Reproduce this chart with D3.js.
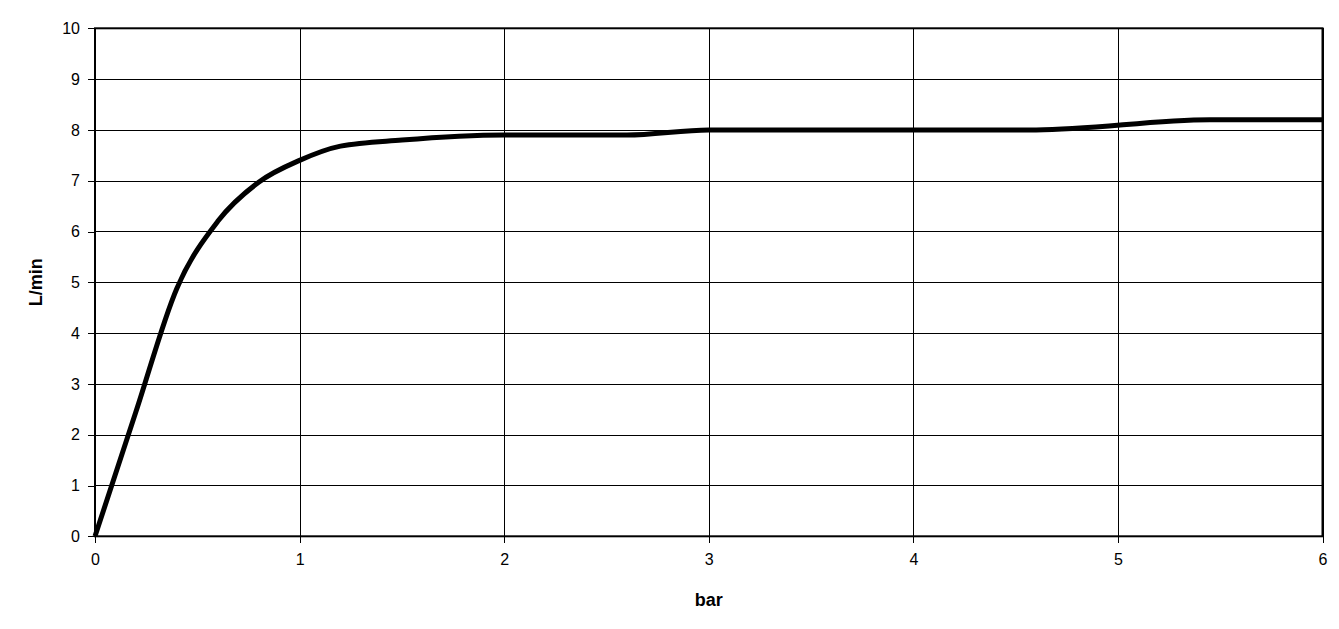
<!DOCTYPE html>
<html>
<head>
<meta charset="utf-8">
<script src="https://cdn.jsdelivr.net/npm/d3@7"></script>
<style>
  html, body { margin: 0; padding: 0; background: #fff; }
  svg { display: block; }
  text { font-family: "Liberation Sans", Arial, Helvetica, sans-serif; fill: #000; }
</style>
</head>
<body>
<svg id="chart" width="1339" height="629"></svg>
<script>
// Data
const pressureBar = [0, 0.2,  0.4,  0.6,  0.8,  1.0, 1.2,  1.5, 2.0, 2.6, 3.0, 4.6, 5.45, 6.0];
const flowLmin    = [0, 2.45, 4.88, 6.2,  6.97, 7.4, 7.68, 7.8, 7.9, 7.9, 8.0, 8.0, 8.2,  8.2];
const xTicks = [0, 1, 2, 3, 4, 5, 6];
const yTicks = [0, 1, 2, 3, 4, 5, 6, 7, 8, 9, 10];
const xTitle = "bar";
const yTitle = "L/min";

const svg = d3.select("#chart");
const mLeft = 95, mRight = 1322.5, mTop = 28.3, mBottom = 536.3;

const x = d3.scaleLinear().domain([0, 6]).range([mLeft, mRight]);
const y = d3.scaleLinear().domain([0, 10]).range([mBottom, mTop]);

// Gridlines
const grid = svg.append("g");
grid.selectAll("line.h").data(yTicks).join("line")
  .attr("x1", mLeft).attr("x2", mRight)
  .attr("y1", d => Math.round(y(d)) + 0.5).attr("y2", d => Math.round(y(d)) + 0.5)
  .attr("stroke", "#000").attr("stroke-width", 1).attr("shape-rendering", "crispEdges");
grid.selectAll("line.v").data(xTicks).join("line")
  .attr("y1", mTop).attr("y2", mBottom)
  .attr("x1", d => Math.round(x(d)) + 0.5).attr("x2", d => Math.round(x(d)) + 0.5)
  .attr("stroke", "#000").attr("stroke-width", 1).attr("shape-rendering", "crispEdges");

// Axes
const yAxis = d3.axisLeft(y).tickValues(yTicks).tickSize(7).tickPadding(8).tickFormat(d3.format("d"));
const xAxis = d3.axisBottom(x).tickValues(xTicks).tickSize(7).tickPadding(10).tickFormat(d3.format("d"));

const gy = svg.append("g").attr("transform", `translate(${mLeft},0)`).call(yAxis);
const gx = svg.append("g").attr("transform", `translate(0,${mBottom})`).call(xAxis);
[gx, gy].forEach(g => {
  g.select(".domain").remove();
  g.selectAll(".tick line").attr("stroke", "#000").attr("stroke-width", 1).attr("shape-rendering", "crispEdges");
  g.selectAll(".tick text").attr("font-size", 16).attr("font-family", "Liberation Sans, Arial, sans-serif").attr("fill", "#000");
});

// Frame
svg.append("rect")
  .attr("x", mLeft).attr("y", mTop).attr("width", mRight - mLeft).attr("height", mBottom - mTop)
  .attr("fill", "none").attr("stroke", "#000").attr("stroke-width", 2);

// Line
const line = d3.line().x(d => x(d[0])).y(d => y(d[1])).curve(d3.curveMonotoneX);
svg.append("path")
  .datum(pressureBar.map((p, i) => [p, flowLmin[i]]))
  .attr("d", line)
  .attr("fill", "none").attr("stroke", "#000").attr("stroke-width", 5)
  .attr("stroke-linejoin", "round").attr("stroke-linecap", "butt");

// Titles
svg.append("text").attr("x", (mLeft + mRight) / 2).attr("y", 606)
  .attr("text-anchor", "middle").attr("font-size", 18).attr("font-weight", "bold").text(xTitle);
svg.append("text").attr("transform", `translate(42,${(mTop + mBottom) / 2}) rotate(-90)`)
  .attr("text-anchor", "middle").attr("font-size", 18).attr("font-weight", "bold").text(yTitle);
</script>
</body>
</html>
